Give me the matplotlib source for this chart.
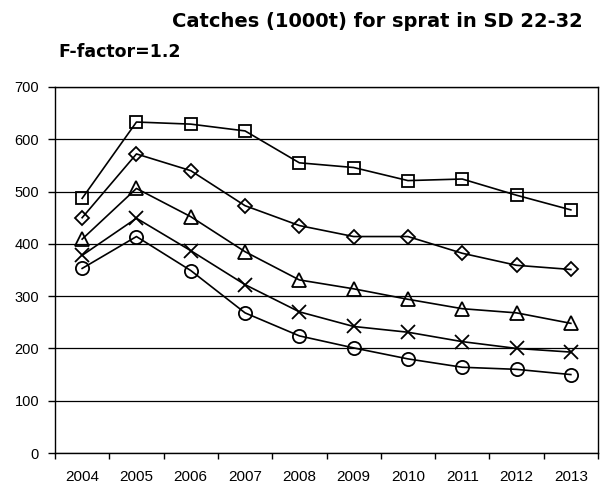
import matplotlib
matplotlib.use("Agg")
import matplotlib.pyplot as plt
import numpy as np

years = ["2004", "2005", "2006", "2007", "2008", "2009", "2010", "2011", "2012", "2013"]
series_square = [487, 633, 629, 616, 555, 546, 521, 524, 493, 465]
series_diamond = [450, 572, 540, 473, 435, 414, 414, 382, 359, 351]
series_triangle = [409, 506, 452, 385, 331, 314, 294, 276, 268, 248]
series_cross = [378, 449, 387, 322, 270, 242, 231, 213, 200, 193]
series_circle = [353, 414, 349, 268, 224, 201, 180, 164, 160, 150]
yticks = [0, 100, 200, 300, 400, 500, 600, 700]

plt.rcParams['font.family'] = ['Liberation Sans', 'DejaVu Sans']

fig = plt.figure(figsize=(6.03, 4.90), dpi=100)
ax = fig.add_axes([55/603, 1-453/490, (598-55)/603, (453-87)/490])

x = np.arange(len(years))
styles = [
    (series_square, 's', 9),
    (series_diamond, 'D', 7.5),
    (series_triangle, '^', 10),
    (series_cross, 'x', 9.5),
    (series_circle, 'o', 9.5),
]
for data, m, ms in styles:
    ax.plot(x, data, color='black', linewidth=1.2, marker=m, markersize=ms,
            markerfacecolor='none', markeredgecolor='black', markeredgewidth=1.3)

ax.set_xlim(-0.5, len(years) - 0.5)
ax.set_ylim(0, 700)
ax.set_yticks(yticks)
ax.set_yticklabels([str(v) for v in yticks], fontsize=10.5)
ax.set_xticks(x)
ax.set_xticklabels(years, fontsize=11)
ax.set_xticks(np.arange(-0.5, len(years)), minor=True)
ax.tick_params(axis='x', which='major', length=0, pad=12.5)
ax.tick_params(axis='x', which='minor', length=4, width=1, direction='out')
ax.tick_params(axis='y', which='major', length=5, width=1, direction='out', pad=6.5)
ax.yaxis.grid(True, color='black', linewidth=0.9)
ax.set_axisbelow(True)
for s in ax.spines.values():
    s.set_color('black')
    s.set_linewidth(1.0)

fig.text(583/603, 1-26.7/490, "Catches (1000t) for sprat in SD 22-32", ha='right', va='baseline',
         fontsize=14, fontweight='bold', family=['DejaVu Sans'])
fig.text(58/603, 1-56.7/490, "F-factor=1.2", ha='left', va='baseline',
         fontsize=12.5, fontweight='bold', family=['DejaVu Sans'])

fig.savefig("out.png", dpi=100, facecolor='white')
